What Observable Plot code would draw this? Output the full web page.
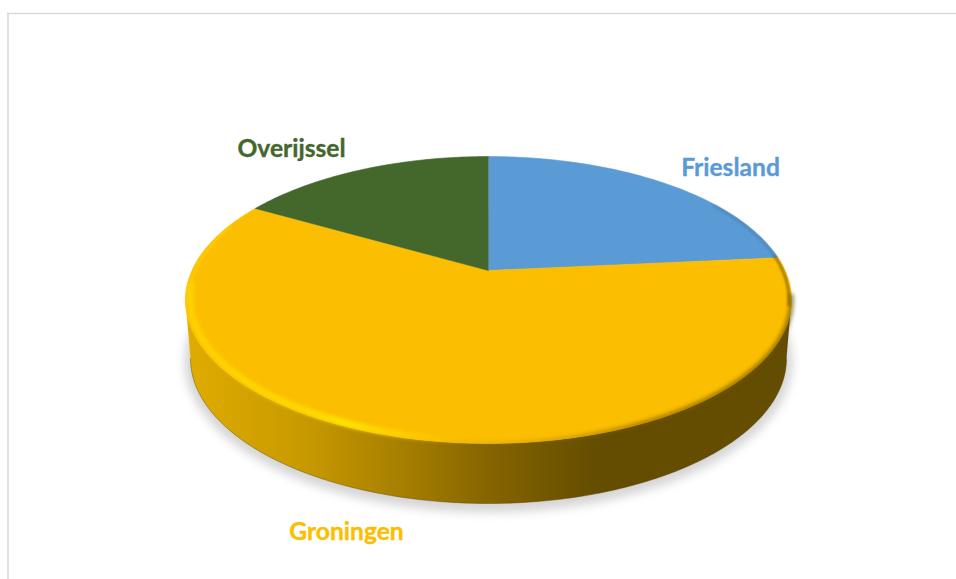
<!DOCTYPE html>
<html>
<head>
<meta charset="utf-8">
<script src="https://cdn.jsdelivr.net/npm/d3@7"></script>
<script src="https://cdn.jsdelivr.net/npm/@observablehq/plot@0.6"></script>
<style>
html,body{margin:0;padding:0;background:#fff;}
svg{display:block;}
</style>
</head>
<body>
<script>
const categories = ["Friesland", "Groningen", "Overijssel"];
const shares = [23.5, 59.8, 16.7];
const colors = ["#5b9bd5", "#fbbe00", "#44672c"];
const labelX = [730, 346, 291];
const labelY = [168, 532, 149];

// Perspective view of the pie disc, in page units
const view = {cx: 488, cy: 270, a: 296.5, b: 137.4, k: 0.2056};
const base = {cx: 488, cy: 358, rx: 298, ry: 145};
const shadow = {cx: 488, cy: 361, rx: 304, ry: 151};
const project = (deg, r = 1) => {
  const t = deg * Math.PI / 180, s = Math.sin(t) * r, c = Math.cos(t) * r;
  const w = 1 + view.k * c;
  return {x: view.cx + view.a * s / w, y: view.cy - view.b * c / w};
};
const sweep = (a0, a1, step = 1) => {
  const n = Math.max(1, Math.round(Math.abs(a1 - a0) / step));
  return d3.range(n + 1).map(i => a0 + (a1 - a0) * i / n);
};

const total = d3.sum(shares);
let acc = 0;
const slices = [];
categories.forEach((name, i) => {
  const a0 = acc / total * 360;
  acc += shares[i];
  const a1 = acc / total * 360;
  slices.push({name, ...project(0, 0)});
  sweep(a0, a1).forEach(a => slices.push({name, ...project(a)}));
});

const edgeA = Math.acos(-view.k) * 180 / Math.PI;          // silhouette angle
const ell = (e, deg) => {
  const t = deg * Math.PI / 180;
  return {x: e.cx + e.rx * Math.cos(t), y: e.cy + e.ry * Math.sin(t)};
};
const basePts = sweep(180, 0).map(d => ell(base, d));
const side = [...sweep(edgeA, 360 - edgeA).map(a => project(a)), ...basePts];
const shadowPts = sweep(0, 360).map(d => ell(shadow, d));
const rimBlue = sweep(58, 84).map(a => project(a, 0.99));
const rimEdge = sweep(84, 104).map(a => project(a, 0.992));
const rimDark = sweep(100, 190).map(a => project(a, 1));
const rimBright = sweep(182, 264).map(a => project(a, 0.985));
const rimUpper = sweep(256, 290).map(a => project(a, 0.99));
const labels = categories.map((name, i) => ({name, x: labelX[i], y: labelY[i]}));

const defs = () => {
  const d = d3.create("svg:defs");
  const grad = (id, stops) => {
    const g = d.append("linearGradient").attr("id", id);
    stops.forEach(([o, c, op]) => g.append("stop").attr("offset", o).attr("stop-color", c).attr("stop-opacity", op ?? 1));
  };
  grad("side", [[0, "#e0ac00"], [0.19, "#c99a00"], [0.36, "#a67e00"], [0.5, "#856500"], [0.68, "#644c00"], [1, "#644c00"]]);
  grad("rimB", [[0, "#ffd400"], [0.4, "#ffdc00"], [0.55, "#ffe800"], [0.75, "#ffd400", 0.8], [1, "#fbbe00", 0]]);
  grad("rimD", [[0, "#8a6a00", 0], [0.3, "#8a6a00", 0.25], [0.6, "#735700", 0.7], [0.86, "#735700", 0.85], [1, "#6a5200", 0.8]]);
  return d.node();
};

const plot = Plot.plot({
  width: 956,
  height: 579,
  margin: 0,
  style: {background: "#fff"},
  x: {domain: [0, 956], range: [0, 956], axis: null},
  y: {domain: [0, 579], range: [0, 579], axis: null},
  color: {domain: categories, range: colors},
  marks: [
    defs,
    Plot.ruleY([13], {x1: 7, x2: 956, stroke: "#d9d9d9", strokeWidth: 1.5}),
    Plot.ruleX([7.5], {y1: 13, y2: 579, stroke: "#d9d9d9", strokeWidth: 1.5}),
    Plot.line(shadowPts, {x: "x", y: "y", fill: "#d6d6d6", stroke: "none", curve: "linear", imageFilter: "blur(5px)"}),
    Plot.line(side, {x: "x", y: "y", fill: "url(#side)", stroke: "none", curve: "linear"}),
    Plot.line(basePts, {x: "x", y: "y", stroke: "#5f4800", strokeWidth: 1, strokeOpacity: 0.45, curve: "linear", imageFilter: "blur(0.6px)"}),
    Plot.line(slices, {x: "x", y: "y", z: "name", fill: "name", stroke: "name", strokeWidth: 0.6, curve: "linear"}),
    Plot.line(rimBlue, {x: "x", y: "y", stroke: "#3f6f9e", strokeWidth: 2, strokeOpacity: 0.5, curve: "linear", imageFilter: "blur(0.8px)"}),
    Plot.line(rimEdge, {x: "x", y: "y", stroke: "#735700", strokeWidth: 2.5, strokeOpacity: 0.7, curve: "linear", imageFilter: "blur(0.8px)"}),
    Plot.line(rimDark, {x: "x", y: "y", stroke: "url(#rimD)", strokeWidth: 4, curve: "linear", imageFilter: "blur(2px)"}),
    Plot.line(rimBright, {x: "x", y: "y", stroke: "url(#rimB)", strokeWidth: 6, curve: "linear", imageFilter: "blur(2px)"}),
    Plot.line(rimUpper, {x: "x", y: "y", stroke: "#ffd400", strokeWidth: 2.5, strokeOpacity: 0.7, curve: "linear", imageFilter: "blur(1px)"}),
    Plot.text(labels, {x: "x", y: "y", text: "name", fill: "name", stroke: "name", strokeWidth: 0.35, fontFamily: "Lato", fontWeight: 700, fontSize: 24.6})
  ]
});
document.body.appendChild(plot);
</script>
</body>
</html>
